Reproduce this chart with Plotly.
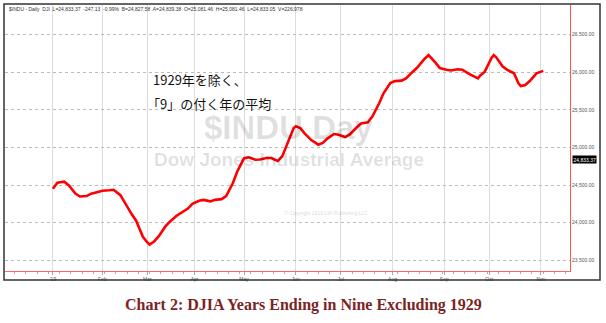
import plotly.graph_objects as go

# ---- data ----
dates = [
    "2019-01-02", "2019-01-04", "2019-01-09", "2019-01-11", "2019-01-16", "2019-01-18",
    "2019-01-23", "2019-01-25", "2019-01-30", "2019-02-01", "2019-02-06", "2019-02-08",
    "2019-02-13", "2019-02-15", "2019-02-20", "2019-02-22", "2019-02-27", "2019-03-01",
    "2019-03-04", "2019-03-06", "2019-03-08", "2019-03-13", "2019-03-15", "2019-03-20",
    "2019-03-22", "2019-03-27", "2019-03-29", "2019-04-03", "2019-04-05", "2019-04-10",
    "2019-04-12", "2019-04-17", "2019-04-19", "2019-04-24", "2019-04-26", "2019-05-01",
    "2019-05-03", "2019-05-08", "2019-05-10", "2019-05-15", "2019-05-17", "2019-05-22",
    "2019-05-24", "2019-05-29", "2019-05-31", "2019-06-03", "2019-06-05", "2019-06-07",
    "2019-06-12", "2019-06-14", "2019-06-17", "2019-06-19", "2019-06-21", "2019-06-26",
    "2019-06-28", "2019-07-03", "2019-07-05", "2019-07-10", "2019-07-12", "2019-07-17",
    "2019-07-19", "2019-07-24", "2019-07-26", "2019-07-31", "2019-08-02", "2019-08-07",
    "2019-08-09", "2019-08-14", "2019-08-16", "2019-08-21", "2019-08-22", "2019-08-23",
    "2019-08-28", "2019-08-30", "2019-09-04", "2019-09-06", "2019-09-11", "2019-09-13",
    "2019-09-18", "2019-09-20", "2019-09-24", "2019-09-25", "2019-09-27", "2019-10-02",
    "2019-10-03", "2019-10-04", "2019-10-09", "2019-10-11", "2019-10-16", "2019-10-18",
    "2019-10-21", "2019-10-23", "2019-10-25", "2019-10-30", "2019-11-01", "2019-11-04",
]
djia_avg = [
    24450, 24530, 24544, 24498, 24388, 24348,
    24354, 24386, 24409, 24424, 24431, 24437,
    24366, 24259, 24114, 24026, 23813, 23737,
    23708, 23750, 23817, 23950, 24013, 24092,
    24126, 24187, 24250, 24290, 24302, 24283,
    24303, 24313, 24353, 24524, 24682, 24856,
    24869, 24837, 24839, 24860, 24860, 24819,
    24884, 25112, 25255, 25280, 25256, 25184,
    25094, 25056, 25035, 25060, 25117, 25178,
    25167, 25137, 25172, 25264, 25318, 25335,
    25410, 25583, 25719, 25855, 25881, 25887,
    25916, 26006, 26061, 26170, 26205, 26225,
    26130, 26055, 26032, 26022, 26039, 26033,
    25976, 25947, 25917, 25955, 26006, 26188,
    26225, 26200, 26075, 26030, 25985, 25853,
    25815, 25829, 25881, 25984, 26002, 26017,
]

month_ticks = ["2019-01-02", "2019-02-01", "2019-03-01", "2019-04-01", "2019-05-01",
               "2019-06-03", "2019-07-01", "2019-08-01", "2019-09-03", "2019-10-01",
               "2019-11-01"]
month_labels = ["'19", "Feb", "Mar", "Apr", "May", "Jun", "Jul", "Aug", "Sep", "Oct", "Nov"]

y_ticks = [23500, 24000, 24500, 25000, 25500, 26000, 26500]
LAST_PRICE = 24833.37

header_text = ("$INDU - Daily  DJI  L=24,833.37  -247.13  -0.99%  B=24,827.58  A=24,839.38  "
               "O=25,081.46  H=25,081.46  L=24,833.05  V=226,978")
note_line1 = "1929年を除く、"
note_line2 = "「9」の付く年の平均"
title_text = "Chart 2: DJIA Years Ending in Nine Excluding 1929"

# ---- figure ----
W, H = 606, 323
ML, MR, MT, MB = 5, 36, 5, 52
pw, ph = W - ML - MR, H - MT - MB


def px_x(px):
    return (px - ML) / pw


def px_y(py):
    return (H - MB - py) / ph


fig = go.Figure()
fig.add_trace(go.Scatter(
    x=dates, y=djia_avg, mode="lines",
    line=dict(color="#ff0000", width=2.6),
    hoverinfo="skip", showlegend=False,
))

small = dict(family="Liberation Sans, Arial, sans-serif", size=5, color="#555555")

fig.update_layout(
    width=W, height=H,
    margin=dict(l=ML, r=MR, t=MT, b=MB),
    paper_bgcolor="white", plot_bgcolor="white",
    showlegend=False,
    xaxis=dict(
        type="date",
        rangebreaks=[dict(bounds=["sat", "mon"])],
        range=["2018-12-03 16:48", "2019-11-19 21:36"],
        tickvals=month_ticks, ticktext=month_labels,
        tickfont=small,
        showgrid=True, gridcolor="#dddddd", gridwidth=1,
        showline=True, linecolor="#ff6666", linewidth=1,
        ticks="outside", ticklen=3, tickcolor="#aaaaaa",
        minor=dict(ticks="outside", ticklen=2, tickcolor="#ff8888",
                   dtick=7 * 86400000, tick0="2019-01-07", showgrid=False),
        zeroline=False,
        fixedrange=True,
    ),
    yaxis=dict(
        side="right",
        range=[23358, 26892],
        tickvals=y_ticks,
        tickformat=",.2f",
        tickfont=small,
        showgrid=True, gridcolor="#bbbbbb", griddash="dot", gridwidth=1,
        showline=True, linecolor="#ff5555", linewidth=1,
        ticks="", zeroline=False,
        fixedrange=True,
    ),
)

annotations = [
    # watermark
    dict(text="<b>$INDU Day</b>", x=px_x(288), y=px_y(128), xref="paper", yref="paper",
         showarrow=False, font=dict(family="Liberation Sans, Arial", size=33,
                                    color="rgba(0,0,0,0.12)"), xanchor="center", yanchor="middle"),
    dict(text="<b>Dow Jones Industrial Average</b>", x=px_x(289), y=px_y(160), xref="paper",
         yref="paper", showarrow=False,
         font=dict(family="Liberation Sans, Arial", size=19, color="rgba(0,0,0,0.12)"),
         xanchor="center", yanchor="middle"),
    dict(text="© Copyright 2019 LMI Publishing LLC", x=px_x(326), y=px_y(213), xref="paper",
         yref="paper", showarrow=False,
         font=dict(family="Liberation Sans, Arial", size=5, color="rgba(0,0,0,0.2)"),
         xanchor="center", yanchor="middle"),
    # header
    dict(text=header_text, x=px_x(7), y=px_y(9), xref="paper", yref="paper",
         showarrow=False, font=dict(family="Liberation Sans, Arial", size=5, color="#333333"),
         xanchor="left", yanchor="middle"),
    # Japanese note
    dict(text=note_line1, x=px_x(151), y=px_y(79), xref="paper", yref="paper",
         showarrow=False, font=dict(family="Noto Sans CJK JP", size=13, color="#111111"),
         xanchor="left", yanchor="middle"),
    dict(text=note_line2, x=px_x(145), y=px_y(104), xref="paper", yref="paper",
         showarrow=False, font=dict(family="Noto Sans CJK JP", size=13, color="#111111"),
         xanchor="left", yanchor="middle"),
    # last price box
    dict(text=f"{LAST_PRICE:,.2f}", x=1, xshift=2, y=LAST_PRICE, xref="paper", yref="y",
         showarrow=False, font=dict(family="Liberation Sans, Arial", size=5, color="white"),
         bgcolor="black", borderpad=0.5, xanchor="left", yanchor="middle"),
    # title
    dict(text="<b>" + title_text + "</b>", x=px_x(303), y=px_y(305), xref="paper",
         yref="paper", showarrow=False,
         font=dict(family="Liberation Serif, Times New Roman, serif", size=16, color="#7a2424"),
         xanchor="center", yanchor="middle"),
]
fig.update_layout(annotations=annotations)

# outer frame
fig.add_shape(type="rect", xref="paper", yref="paper",
              x0=px_x(4), x1=px_x(600), y0=px_y(280), y1=px_y(4),
              line=dict(color="#333333", width=1.5), fillcolor="rgba(0,0,0,0)", layer="above")

fig.write_html("out.html")
